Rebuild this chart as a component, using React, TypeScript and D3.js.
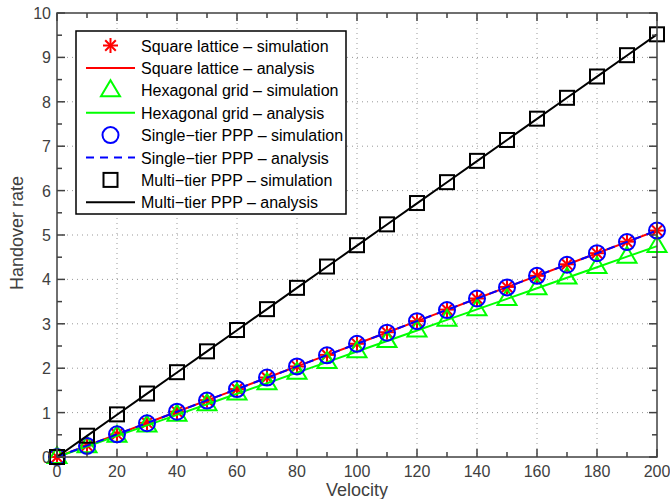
import React from "react";
import * as d3 from "d3";

const velocity = [0, 10, 20, 30, 40, 50, 60, 70, 80, 90, 100, 110, 120, 130, 140, 150, 160, 170, 180, 190, 200];
const squareSim = [0, 0.26, 0.51, 0.77, 1.02, 1.28, 1.53, 1.79, 2.04, 2.3, 2.55, 2.81, 3.06, 3.32, 3.57, 3.83, 4.08, 4.34, 4.59, 4.85, 5.1];
const squareAna = [0, 0.255, 0.51, 0.765, 1.02, 1.275, 1.53, 1.785, 2.04, 2.295, 2.55, 2.805, 3.06, 3.315, 3.57, 3.825, 4.08, 4.335, 4.59, 4.845, 5.1];
const hexSim = [0, 0.24, 0.48, 0.71, 0.95, 1.19, 1.43, 1.66, 1.9, 2.14, 2.38, 2.61, 2.85, 3.09, 3.33, 3.56, 3.8, 4.04, 4.28, 4.51, 4.75];
const hexAna = [0, 0.2375, 0.475, 0.7125, 0.95, 1.1875, 1.425, 1.6625, 1.9, 2.1375, 2.375, 2.6125, 2.85, 3.0875, 3.325, 3.5625, 3.8, 4.0375, 4.275, 4.5125, 4.75];
const singleSim = [0, 0.25, 0.51, 0.76, 1.02, 1.27, 1.53, 1.79, 2.04, 2.29, 2.55, 2.8, 3.06, 3.31, 3.57, 3.82, 4.08, 4.33, 4.59, 4.84, 5.1];
const singleAna = [0, 0.255, 0.51, 0.765, 1.02, 1.275, 1.53, 1.785, 2.04, 2.295, 2.55, 2.805, 3.06, 3.315, 3.57, 3.825, 4.08, 4.335, 4.59, 4.845, 5.1];
const multiSim = [0, 0.48, 0.96, 1.43, 1.91, 2.38, 2.86, 3.33, 3.81, 4.29, 4.77, 5.24, 5.72, 6.19, 6.67, 7.14, 7.62, 8.09, 8.57, 9.05, 9.52];
const multiAna = [0, 0.476, 0.952, 1.428, 1.904, 2.38, 2.856, 3.332, 3.808, 4.284, 4.76, 5.236, 5.712, 6.188, 6.664, 7.14, 7.616, 8.092, 8.568, 9.044, 9.52];

const xTicks = [0, 20, 40, 60, 80, 100, 120, 140, 160, 180, 200];
const yTicks = [0, 1, 2, 3, 4, 5, 6, 7, 8, 9, 10];
const legendLabels = [
  "Square lattice \u2013 simulation",
  "Square lattice \u2013 analysis",
  "Hexagonal grid \u2013 simulation",
  "Hexagonal grid \u2013 analysis",
  "Single\u2212tier PPP \u2013 simulation",
  "Single\u2212tier PPP \u2013 analysis",
  "Multi\u2212tier PPP \u2013 simulation",
  "Multi\u2212tier PPP \u2013 analysis",
];

const W = 670, H = 499;
const L = 57, R = 657, T = 13, B = 457;
const FONT = "Liberation Sans, Arial, Helvetica, sans-serif";
const AX = "#404040";

function Marker({ kind, x, y }: { kind: string; x: number; y: number }) {
  if (kind === "star") {
    const r = 7.5;
    const lines = [0, 45, 90, 135].map((a) => {
      const rad = (a * Math.PI) / 180;
      return (
        <line key={a} x1={x - r * Math.cos(rad)} y1={y - r * Math.sin(rad)} x2={x + r * Math.cos(rad)} y2={y + r * Math.sin(rad)} stroke="#ff0000" strokeWidth={2} />
      );
    });
    return <g>{lines}</g>;
  }
  if (kind === "tri") {
    const s = 10;
    return <path d={`M${x},${y - s} L${x + s * 0.95},${y + s * 0.6} L${x - s * 0.95},${y + s * 0.6} Z`} fill="none" stroke="#00ff00" strokeWidth={2} />;
  }
  if (kind === "circ") {
    return <circle cx={x} cy={y} r={8} fill="none" stroke="#0000ff" strokeWidth={2} />;
  }
  return <rect x={x - 7} y={y - 7} width={14} height={14} fill="none" stroke="#000" strokeWidth={2} />;
}

export default function App() {
  const x = d3.scaleLinear().domain([0, 200]).range([L, R]);
  const y = d3.scaleLinear().domain([0, 10]).range([B, T]);
  const line = (vals: number[]) =>
    d3.line<number>().x((_, i) => x(velocity[i])).y((v) => y(v))(vals) || "";

  const xMinor = d3.range(0, 201, 10);
  const yMinor = d3.range(0, 10.01, 0.5);

  const series = [
    { type: "m", kind: "star", vals: squareSim },
    { type: "l", color: "#ff0000", dash: "", vals: squareAna },
    { type: "m", kind: "tri", vals: hexSim },
    { type: "l", color: "#00ff00", dash: "", vals: hexAna },
    { type: "m", kind: "circ", vals: singleSim },
    { type: "l", color: "#0000ff", dash: "8,6", vals: singleAna },
    { type: "m", kind: "sq", vals: multiSim },
    { type: "l", color: "#000000", dash: "", vals: multiAna },
  ];

  const lgX = 76, lgY = 31, lgW = 270, lgH = 183, rowH = 22.4;

  return (
    <svg width={W} height={H} style={{ position: "absolute", left: 0, top: 0, background: "#fff" }}>
      <rect x={0} y={0} width={W} height={H} fill="#fff" />
      {/* grid */}
      {xTicks.slice(1, -1).map((t) => (
        <line key={"gx" + t} x1={x(t)} x2={x(t)} y1={T} y2={B} stroke="#999" strokeWidth={1} strokeDasharray="1,4" />
      ))}
      {yTicks.slice(1, -1).map((t) => (
        <line key={"gy" + t} x1={L} x2={R} y1={y(t)} y2={y(t)} stroke="#999" strokeWidth={1} strokeDasharray="1,4" />
      ))}
      {/* data */}
      {series.map((s, i) =>
        s.type === "l" ? (
          <path key={i} d={line(s.vals)} fill="none" stroke={s.color} strokeWidth={2} strokeDasharray={s.dash} />
        ) : (
          <g key={i}>
            {s.vals.map((v, j) => (
              <Marker key={j} kind={s.kind as string} x={x(velocity[j])} y={y(v)} />
            ))}
          </g>
        )
      )}
      {/* axes box */}
      <rect x={L} y={T} width={R - L} height={B - T} fill="none" stroke={AX} strokeWidth={1.5} />
      {xMinor.map((t) => {
        const major = t % 20 === 0;
        const len = major ? 8 : 5;
        return (
          <g key={"xt" + t}>
            <line x1={x(t)} x2={x(t)} y1={B} y2={B - len} stroke={AX} strokeWidth={1.5} />
            <line x1={x(t)} x2={x(t)} y1={T} y2={T + len} stroke={AX} strokeWidth={1.5} />
          </g>
        );
      })}
      {yMinor.map((t) => {
        const major = Math.abs(t - Math.round(t)) < 1e-6;
        const len = major ? 8 : 5;
        return (
          <g key={"yt" + t}>
            <line x1={L} x2={L + len} y1={y(t)} y2={y(t)} stroke={AX} strokeWidth={1.5} />
            <line x1={R} x2={R - len} y1={y(t)} y2={y(t)} stroke={AX} strokeWidth={1.5} />
          </g>
        );
      })}
      {xTicks.map((t) => (
        <text key={"xl" + t} x={x(t)} y={477} textAnchor="middle" fontFamily={FONT} fontSize={16} fill={AX}>
          {t}
        </text>
      ))}
      {yTicks.map((t) => (
        <text key={"yl" + t} x={L - 6} y={y(t) + 6} textAnchor="end" fontFamily={FONT} fontSize={16} fill={AX}>
          {t}
        </text>
      ))}
      <text x={(L + R) / 2} y={496} textAnchor="middle" fontFamily={FONT} fontSize={18} fill={AX}>
        Velocity
      </text>
      <text transform={`translate(23,${233}) rotate(-90)`} textAnchor="middle" fontFamily={FONT} fontSize={18} fill={AX}>
        Handover rate
      </text>
      {/* legend */}
      <rect x={lgX} y={lgY} width={lgW} height={lgH} fill="#fff" stroke="#000" strokeWidth={1.5} />
      {series.map((s, i) => {
        const cy = lgY + 14.5 + i * rowH;
        return (
          <g key={"lg" + i}>
            {s.type === "l" ? (
              <line x1={86} x2={135} y1={cy} y2={cy} stroke={s.color} strokeWidth={2} strokeDasharray={s.dash} />
            ) : (
              <Marker kind={s.kind as string} x={110.5} y={cy} />
            )}
            <text x={141} y={cy + 6} fontFamily={FONT} fontSize={16} fill="#000">
              {legendLabels[i]}
            </text>
          </g>
        );
      })}
    </svg>
  );
}
